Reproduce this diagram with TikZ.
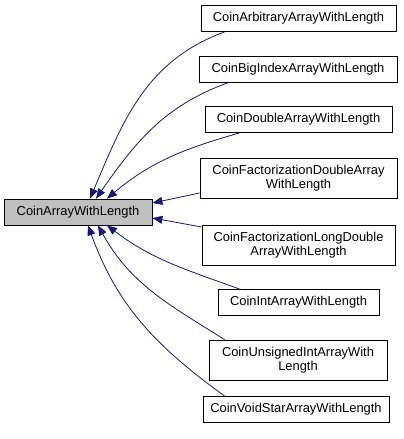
\documentclass[tikz,border=0pt]{standalone}
\usepackage{fontspec}
\setmainfont{Liberation Sans}
\usetikzlibrary{arrows.meta}
\definecolor{edgeblue}{HTML}{191970}
\begin{document}
\begin{tikzpicture}[x=1bp,y=1bp,
		cls/.style={draw=black,fill=white,line width=0.8bp,inner sep=0pt,minimum height=26bp,align=center,font=\fontsize{12.9bp}{14.5bp}\selectfont},
		inh/.style={edgeblue,line width=0.8bp,-{Triangle[length=10bp,width=8bp]}}]
			\useasboundingbox (0,0) rectangle (403,439);
			\node[cls,fill=black!25,minimum width=148bp] (base) at (78,227) {CoinArrayWithLength};
			\node[cls,minimum width=195bp] (arb) at (298.5,420.5) {CoinArbitraryArrayWithLength};
			\node[cls,minimum width=198bp] (big) at (298,369.5) {CoinBigIndexArrayWithLength};
			\node[cls,minimum width=187bp] (dbl) at (298.5,319.5) {CoinDoubleArrayWithLength};
			\node[cls,minimum width=197bp,minimum height=40bp] (fdbl) at (298.5,261) {CoinFactorizationDoubleArray\\WithLength};
			\node[cls,minimum width=193bp,minimum height=40bp] (fldbl) at (298.5,194) {CoinFactorizationLongDouble\\ArrayWithLength};
			\node[cls,minimum width=161bp] (int) at (298.5,136.5) {CoinIntArrayWithLength};
			\node[cls,minimum width=178bp,minimum height=40bp] (uint) at (298,79) {CoinUnsignedIntArrayWith\\Length};
			\node[cls,minimum width=186bp] (vstar) at (296,29.5) {CoinVoidStarArrayWithLength};
			\path[inh]
			([xshift=24bp]arb.south west) edge [out=200,in=67] ([xshift=12bp]base.north)
			([xshift=29bp]big.south west) edge [out=200,in=55] ([xshift=18bp]base.north)
			([xshift=35bp]dbl.south west) edge [out=196,in=40] ([xshift=29bp]base.north)
			([yshift=-15bp]fdbl.west) edge ([yshift=9bp]base.east)
			([yshift=18bp]fldbl.west) edge ([yshift=-6bp]base.east)
			([xshift=22bp]int.north west) edge [out=160,in=-37] ([xshift=29bp]base.south)
			([xshift=16bp]uint.north west) edge [out=148,in=-61] ([xshift=20bp]base.south)
			([xshift=22bp]vstar.north west) edge [out=144,in=-70] ([xshift=10bp]base.south);
		\end{tikzpicture}
\end{document}
